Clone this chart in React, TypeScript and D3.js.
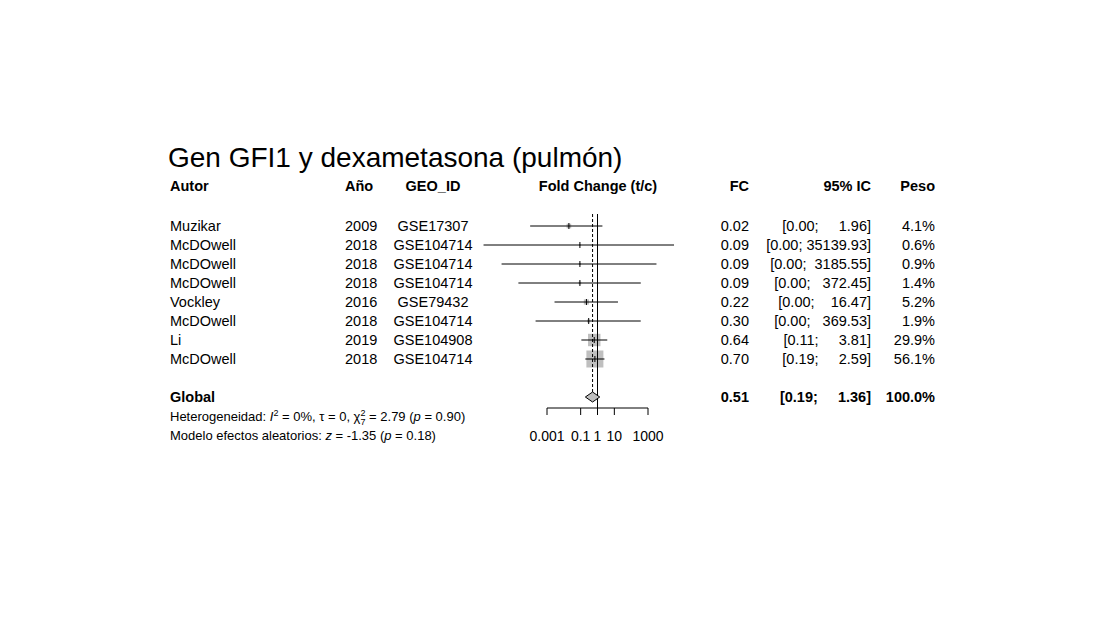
import React from "react";
import * as d3 from "d3";

const autores = ["Muzikar","McDOwell","McDOwell","McDOwell","Vockley","McDOwell","Li","McDOwell"];
const anios = ["2009","2018","2018","2018","2016","2018","2019","2018"];
const geo = ["GSE17307","GSE104714","GSE104714","GSE104714","GSE79432","GSE104714","GSE104908","GSE104714"];
const fc = [0.02,0.09,0.09,0.09,0.22,0.30,0.64,0.70];
const lower = [0.0001,1.7e-7,2e-6,2e-5,0.0028,0.00021,0.11,0.19];
const upper = [1.96,35139.93,3185.55,372.45,16.47,369.53,3.81,2.59];
const icTxt = ["[0.00;     1.96]","[0.00; 35139.93]","[0.00;  3185.55]","[0.00;   372.45]","[0.00;    16.47]","[0.00;   369.53]","[0.11;     3.81]","[0.19;     2.59]"];
const peso = [4.1,0.6,0.9,1.4,5.2,1.9,29.9,56.1];
const ticks = [0.001,0.1,1,10,1000];
const tickLbl = ["0.001","0.1","1","10","1000"];
const global = { fc: 0.51, lo: 0.19, hi: 1.36 };

export default function App() {
  const x = d3.scaleLog().domain([0.001, 1000]).range([547, 648]);
  const y = (i: number) => 226 + i * 19.0;
  const f = "Liberation Sans, Arial, sans-serif";
  const fs = 14.5;
  const gy = 397;
  return (
    <svg width={1090} height={604} style={{ display: "block" }} fontFamily={f}>
      <rect width={1090} height={604} fill="#fff" />
      <g transform="translate(-8,-8)">
        <text x={168} y={167} fontSize={28}>Gen GFI1 y dexametasona (pulmón)</text>
        <g fontWeight="bold" fontSize={fs}>
          <text x={170} y={191}>Autor</text>
          <text x={345} y={191}>Año</text>
          <text x={433} y={191} textAnchor="middle">GEO_ID</text>
          <text x={598} y={191} textAnchor="middle">Fold Change (t/c)</text>
          <text x={749} y={191} textAnchor="end">FC</text>
          <text x={871} y={191} textAnchor="end">95% IC</text>
          <text x={935} y={191} textAnchor="end">Peso</text>
        </g>
        {autores.map((a, i) => {
          const cy = y(i);
          const s = 2.27 * Math.sqrt(peso[i]);
          return (
            <g key={i} fontSize={fs}>
              <text x={170} y={cy + 5}>{a}</text>
              <text x={345} y={cy + 5}>{anios[i]}</text>
              <text x={433} y={cy + 5} textAnchor="middle">{geo[i]}</text>
              <text x={749} y={cy + 5} textAnchor="end">{fc[i].toFixed(2)}</text>
              <text x={871} y={cy + 5} textAnchor="end" style={{ whiteSpace: "pre" }}>{icTxt[i]}</text>
              <text x={935} y={cy + 5} textAnchor="end">{peso[i].toFixed(1)}%</text>
              <rect x={x(fc[i]) - s / 2} y={cy - s / 2} width={s} height={s} fill="#bfbfbf" />
              <line x1={x(lower[i])} x2={x(upper[i])} y1={cy} y2={cy} stroke="#000" />
              <line x1={x(fc[i])} x2={x(fc[i])} y1={cy - 3} y2={cy + 3} stroke="#000" />
            </g>
          );
        })}
        <line x1={x(1)} x2={x(1)} y1={214} y2={408} stroke="#000" />
        <line x1={x(global.fc)} x2={x(global.fc)} y1={214} y2={392} stroke="#000" strokeDasharray="3,2" />
        <path d={`M${x(global.lo)},${gy} L${x(global.fc)},${gy - 5} L${x(global.hi)},${gy} L${x(global.fc)},${gy + 5} Z`} fill="#bfbfbf" stroke="#000" />
        <g fontWeight="bold" fontSize={fs}>
          <text x={170} y={gy + 5}>Global</text>
          <text x={749} y={gy + 5} textAnchor="end">0.51</text>
          <text x={871} y={gy + 5} textAnchor="end" style={{ whiteSpace: "pre" }}>{"[0.19;     1.36]"}</text>
          <text x={935} y={gy + 5} textAnchor="end">100.0%</text>
        </g>
        <line x1={x(0.001)} x2={x(1000)} y1={408} y2={408} stroke="#000" />
        {ticks.map((t, i) => (
          <g key={i}>
            <line x1={x(t)} x2={x(t)} y1={408} y2={415} stroke="#000" />
            <text x={x(t)} y={441} fontSize={14} textAnchor="middle">{tickLbl[i]}</text>
          </g>
        ))}
        <text x={170} y={421} fontSize={13}>
          Heterogeneidad: <tspan fontStyle="italic">I</tspan><tspan dy={-5} fontSize={9}>2</tspan><tspan dy={5}> = 0%, τ = 0, χ</tspan>
          <tspan dy={-5} fontSize={9}>2</tspan><tspan dx={-5} dy={9} fontSize={9}>7</tspan><tspan dy={-4}> = 2.79 (</tspan>
          <tspan fontStyle="italic">p</tspan> = 0.90)
        </text>
        <text x={170} y={440} fontSize={13}>
          Modelo efectos aleatorios: <tspan fontStyle="italic">z</tspan> = -1.35 (<tspan fontStyle="italic">p</tspan> = 0.18)
        </text>
      </g>
    </svg>
  );
}
